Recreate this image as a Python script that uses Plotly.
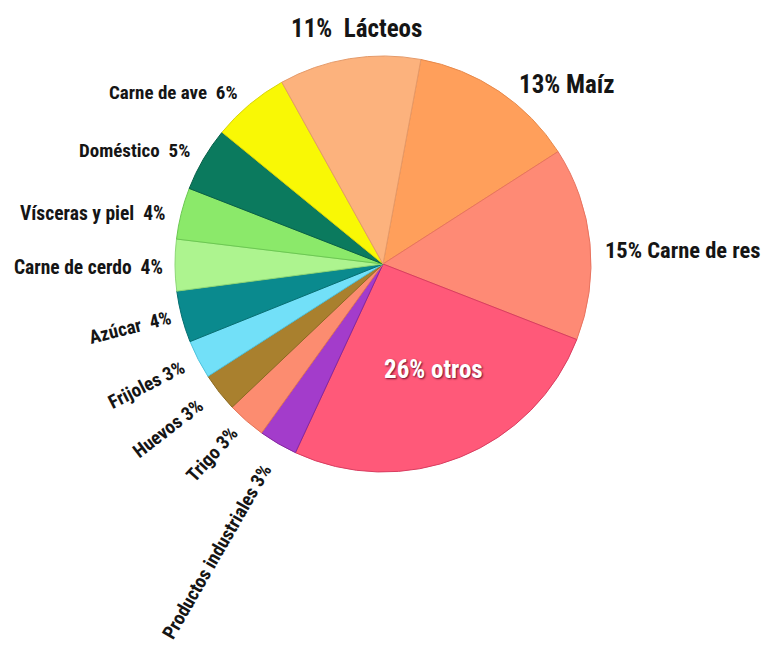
import math
import plotly.graph_objects as go

# Slices in clockwise order, starting just right of 12 o'clock
labels = ["Maíz", "Carne de res", "otros", "Productos industriales", "Trigo", "Huevos",
          "Frijoles", "Azúcar", "Carne de cerdo", "Vísceras y piel", "Doméstico",
          "Carne de ave", "Lácteos"]
shares = [13, 15, 26, 3, 3, 3, 3, 4, 4, 4, 5, 6, 11]

fill_colors = ["#FF9F5B", "#FE8A75", "#FF5979", "#A33CCB", "#FC8C70", "#A9802E",
               "#72E0F8", "#0A8A8E", "#ADF48F", "#8BE96A", "#0B7A5E", "#F9F805", "#FCB27D"]
edge_colors = ["#E8894A", "#E8735F", "#D93D60", "#86279F", "#E47458", "#8C6A22",
               "#4FC3DD", "#066E70", "#8DD876", "#6CC852", "#075F48", "#D8D40C", "#E59A69"]

W, H = 772, 649
CX, CY, R = 383, 264, 208
ROTATION = 10.5

FONT = "Roboto Condensed, Liberation Sans Narrow, DejaVu Sans Condensed, Arial Narrow, sans-serif"
INK = "#151515"

fig = go.Figure(go.Pie(
    labels=labels,
    values=shares,
    sort=False,
    direction="clockwise",
    rotation=ROTATION,
    textinfo="none",
    hoverinfo="label+percent",
    marker=dict(colors=fill_colors, line=dict(color=edge_colors, width=1)),
    domain=dict(x=[(CX - R) / W, (CX + R) / W], y=[1 - (CY + R) / H, 1 - (CY - R) / H]),
    showlegend=False,
))

# Mid-angle of each slice, measured clockwise from 12 o'clock
total = sum(shares)
mids = {}
acc = ROTATION
for name, v in zip(labels, shares):
    span = 360.0 * v / total
    mids[name] = acc + span / 2
    acc += span


def to_paper(angle, dist):
    a = math.radians(angle)
    px = CX + dist * math.sin(a)
    py = CY - dist * math.cos(a)
    return px / W, 1 - py / H


# How each label is set: text, kind, radial distance, angle tweak, font size
placement = {
    "Lácteos": ("11%\u00a0\u00a0Lácteos", "top", 237, 3.0, 25),
    "Maíz": ("13% Maíz", "right", 224, 2.9, 25),
    "Carne de res": ("15% Carne de res", "right", 220, 2.1, 22.5),
    "otros": ("26% otros", "inside", 117, -3.4, 25),
    "Carne de ave": ("Carne de ave\u00a0\u00a06%", "left", 223, 0.0, 19),
    "Doméstico": ("Doméstico\u00a0\u00a05%", "left", 222, 0.5, 19),
    "Vísceras y piel": ("Vísceras y piel\u00a0\u00a04%", "left", 221, -0.8, 19.5),
    "Carne de cerdo": ("Carne de cerdo\u00a0\u00a04%", "left", 218, -0.7, 19.5),
    "Azúcar": ("Azúcar\u00a0\u00a04%", "radial", 261, 0.7, 19),
    "Frijoles": ("Frijoles 3%", "radial", 265, 0.3, 19),
    "Huevos": ("Huevos 3%", "radial", 271, 0.6, 19),
    "Trigo": ("Trigo 3%", "radial", 256, 0.9, 19),
    "Productos industriales": ("Productos industriales 3%", "radial", 332, -0.3, 19),
}

for name in labels:
    text, kind, dist, tweak, size = placement[name]
    ang = mids[name] + tweak
    x, y = to_paper(ang, dist)
    font = dict(family=FONT, size=size, color=INK, weight="bold")
    ann = dict(x=x, y=y, xref="paper", yref="paper", text=text, showarrow=False, font=font)
    if kind == "top":
        ann.update(xanchor="center", yanchor="middle")
    elif kind == "right":
        ann.update(xanchor="left", yanchor="middle")
    elif kind == "left":
        ann.update(xanchor="right", yanchor="middle")
    elif kind == "inside":
        font.update(color="white", shadow="1px 1px 2px #6a0f2a")
        ann.update(xanchor="center", yanchor="middle")
    else:
        # rotated along the slice's own direction, reading towards the centre
        ann.update(xanchor="center", yanchor="middle", textangle=-(270 - ang))
    fig.add_annotation(**ann)

fig.update_layout(
    width=W, height=H,
    margin=dict(l=0, r=0, t=0, b=0),
    paper_bgcolor="white",
    plot_bgcolor="white",
)

fig.write_html("out.html")
